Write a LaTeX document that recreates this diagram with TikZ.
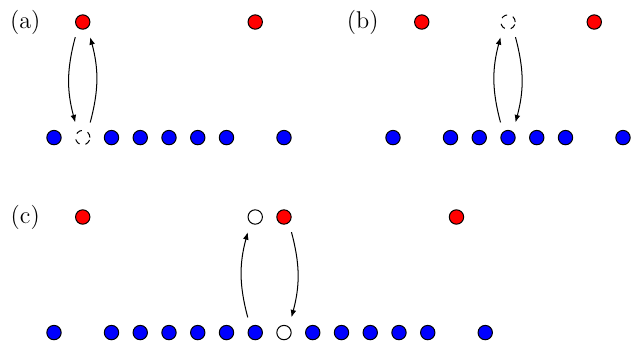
\documentclass[tikz,border=0pt]{standalone}
\usepackage{tikz}
\usetikzlibrary{arrows.meta}
\tikzset{
	atom/.style={circle, draw=black, fill=#1, minimum size=2.5mm, inner sep=0pt, line width=0.5pt},
	hole/.style={circle, draw=black, dashed, minimum size=2.5mm, inner sep=0pt, line width=0.5pt},
	vac/.style={circle, draw=black, fill=white, minimum size=2.5mm, inner sep=0pt, line width=0.5pt},
	hop/.style={-{Latex[length=1.3mm,width=1mm]}, line width=0.5pt},
	lbl/.style={font=\large, inner sep=0pt},
}

\begin{document}
\begin{tikzpicture}
		\useasboundingbox (0,0) rectangle (11.096,-6.035);
		% (a)
		\begin{scope}[x=5mm, shift={(0.939cm,-0.383cm)}]
				\node[lbl] (la) at (-1,0) {(a)};
				\foreach \i in {1,7} \node[atom=red] (aT\i) at (\i,0) {};
				\foreach \i in {0,2,3,4,5,6,8} \node[atom=blue] (aB\i) at (\i,-2.01) {};
				\node[hole] (aB1) at (1,-2.01) {};
				\draw[hop] ([xshift=-1.3mm,yshift=-1.3mm]aT1.south) to[bend right=15] ([xshift=-1.3mm,yshift=1.3mm]aB1.north);
				\draw[hop] ([xshift=1.3mm,yshift=1.3mm]aB1.north) to[bend right=15] ([xshift=1.3mm,yshift=-1.3mm]aT1.south);
		\end{scope}
		% (b)
		\begin{scope}[x=5mm, shift={(6.835cm,-0.383cm)}]
				\node[lbl] (lb) at (-1.05,0) {(b)};
				\foreach \i in {1,7} \node[atom=red] (bT\i) at (\i,0) {};
				\node[hole] (bT4) at (4,0) {};
				\foreach \i in {0,2,3,4,5,6,8} \node[atom=blue] (bB\i) at (\i,-2.01) {};
				\draw[hop] ([xshift=-1.3mm,yshift=1.3mm]bB4.north) to[bend left=15] ([xshift=-1.3mm,yshift=-1.3mm]bT4.south);
				\draw[hop] ([xshift=1.3mm,yshift=-1.3mm]bT4.south) to[bend left=15] ([xshift=1.3mm,yshift=1.3mm]bB4.north);
		\end{scope}
		% (c)
		\begin{scope}[x=5mm, shift={(0.939cm,-3.774cm)}]
				\node[lbl] (lc) at (-1,0) {(c)};
				\foreach \i in {1,8,14} \node[atom=red] (cT\i) at (\i,0) {};
				\node[vac] (cT7) at (7,0) {};
				\foreach \i in {0,2,3,4,5,6,7,9,10,11,12,13,15} \node[atom=blue] (cB\i) at (\i,-2.01) {};
				\node[vac] (cB8) at (8,-2.01) {};
				\draw[hop] ([xshift=-1.3mm,yshift=1.3mm]cB7.north) to[bend left=15] ([xshift=-1.3mm,yshift=-1.3mm]cT7.south);
				\draw[hop] ([xshift=1.3mm,yshift=-1.3mm]cT8.south) to[bend left=15] ([xshift=1.3mm,yshift=1.3mm]cB8.north);
		\end{scope}
\end{tikzpicture}
\end{document}
